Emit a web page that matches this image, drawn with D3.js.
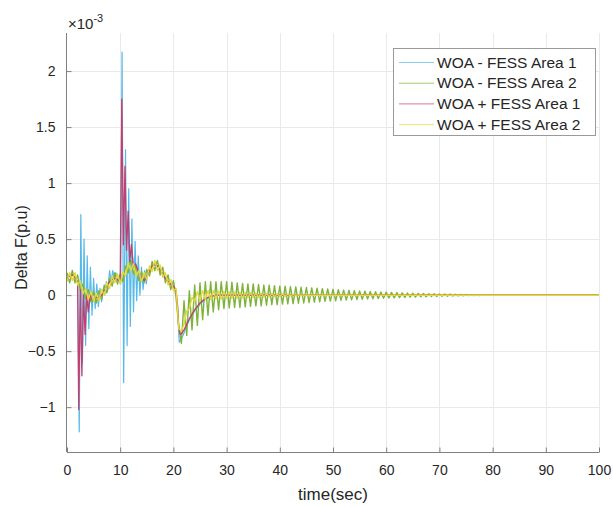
<!DOCTYPE html>
<html>
<head>
<meta charset="utf-8">
<script src="https://cdn.jsdelivr.net/npm/d3@7"></script>
<style>
  body { margin: 0; background: #fff; }
  svg { display: block; }
  text { font-family: "Liberation Sans", Arial, Helvetica, sans-serif; fill: #262626; }
</style>
</head>
<body>
<svg id="chart" width="613" height="507"></svg>
<script>
// Frequency deviation after load steps, all values in units of 1e-3 p.u.

const seriesNames = [
  "WOA - FESS Area 1",
  "WOA - FESS Area 2",
  "WOA + FESS Area 1",
  "WOA + FESS Area 2"
];
const seriesColors = ["#56b9e9", "#7db33a", "#c0406f", "#e2da3a"];

const xTicks = [0, 10, 20, 30, 40, 50, 60, 70, 80, 90, 100];
const yTicks = [-1, -0.5, 0, 0.5, 1, 1.5, 2];
const xDomain = [0, 100];
const yDomain = [-1.4, 2.34];

// WOA - FESS, Area 1: [time s, deviation]
const woaArea1 = [
  [0, 0.15], [0.5, 0.17], [1, 0.18], [1.5, 0.16], [2, 0.12], [2.3, -1.22], [2.6, 0.72],
  [2.9, -0.6], [3.2, 0.5], [3.5, -0.45], [3.8, 0.35], [4.1, -0.3], [4.4, 0.25], [4.7, -0.18],
  [5.0, 0.15], [5.3, -0.12], [5.6, 0.1], [5.9, -0.1], [6.2, 0.06], [6.5, -0.06], [6.8, 0.05],
  [7.1, 0.0], [7.4, 0.12], [7.7, 0.05], [8.0, 0.22], [8.3, 0.12], [8.6, 0.22], [8.9, 0.14],
  [9.2, 0.2], [9.5, 0.12], [9.8, 0.16], [10.1, 0.1], [10.35, 2.17], [10.65, -0.78], [11.0, 1.3],
  [11.3, -0.45], [11.6, 0.95], [11.9, -0.28], [12.2, 0.68], [12.5, -0.15], [12.8, 0.48],
  [13.1, -0.05], [13.4, 0.35], [13.7, 0.0], [14.0, 0.25], [14.3, 0.05], [14.6, 0.22], [14.9, 0.1],
  [15.2, 0.22], [15.6, 0.2], [16, 0.26], [16.5, 0.28], [17, 0.26], [17.5, 0.23], [18, 0.19],
  [18.5, 0.15], [19, 0.12], [19.5, 0.1], [20, 0.08], [20.5, 0.03], [20.8, -0.15], [21.1, -0.42],
  [21.4, -0.4], [21.8, -0.36], [22.3, -0.3], [23, -0.22], [24, -0.14], [25, -0.08], [26, -0.04],
  [27, -0.015], [28, 0], [100, 0]
];

// WOA + FESS, Area 1: [time s, deviation]
const fessArea1 = [
  [0, 0.15], [0.5, 0.17], [1.0, 0.18], [1.5, 0.16], [2.0, 0.12], [2.2, -1.02], [2.5, 0.05],
  [2.8, -0.72], [3.1, 0.02], [3.4, -0.35], [3.7, 0.0], [4.0, -0.15], [4.4, 0.02], [4.8, -0.05],
  [5.3, -0.02], [6, -0.02], [6.5, 0.0], [7, 0.04], [7.5, 0.08], [8, 0.12], [8.5, 0.14], [9, 0.15],
  [9.5, 0.14], [10.0, 0.12], [10.3, 1.75], [10.6, 0.45], [10.9, 1.15], [11.2, 0.4], [11.5, 0.75],
  [11.8, 0.3], [12.1, 0.45], [12.5, 0.25], [12.9, 0.28], [13.5, 0.2], [14, 0.15], [14.5, 0.13],
  [15, 0.17], [15.5, 0.22], [16, 0.26], [16.5, 0.27], [17, 0.26], [17.5, 0.23], [18, 0.19],
  [18.5, 0.15], [19, 0.12], [19.5, 0.1], [20, 0.08], [20.5, 0.04], [20.8, -0.1], [21.0, -0.28],
  [21.3, -0.35], [21.6, -0.34], [22, -0.31], [22.5, -0.26], [23, -0.21], [23.5, -0.17],
  [24, -0.13], [24.5, -0.1], [25, -0.07], [25.5, -0.05], [26, -0.03], [27, -0.01], [28, 0.0],
  [30, 0.0], [100, 0.0]
];

// Area 2 traces are sampled every 0.5 s
const area2Step = 0.5;

// WOA - FESS, Area 2: samples from t = 0 to t = 80 s, then settled
const woaArea2 = [
  0.20, 0.11, 0.22, 0.11, 0.18, 0.04, 0.10, -0.03, 0.05, -0.06,
  0.03, -0.07, 0.04, -0.04, 0.09, 0.02, 0.15, 0.08, 0.20, 0.10,
  0.19, 0.12, 0.26, 0.20, 0.31, 0.19, 0.26, 0.13, 0.21, 0.11,
  0.23, 0.17, 0.30, 0.22, 0.31, 0.18, 0.25, 0.11, 0.18, 0.05,
  0.13, -0.02, -0.28, -0.43, -0.05, -0.36, 0.04, -0.31, 0.09, -0.27,
  0.11, -0.22, 0.12, -0.18, 0.12, -0.15, 0.12, -0.13, 0.12, -0.12,
  0.12, -0.115, 0.115, -0.11, 0.11, -0.11, 0.105, -0.105, 0.10, -0.10,
  0.10, -0.095, 0.095, -0.095, 0.09, -0.09, 0.09, -0.085, 0.085, -0.085,
  0.08, -0.08, 0.08, -0.078, 0.076, -0.075, 0.074, -0.072, 0.07, -0.07,
  0.068, -0.066, 0.065, -0.063, 0.062, -0.06, 0.058, -0.056, 0.055, -0.053,
  0.052, -0.05, 0.048, -0.047, 0.045, -0.044, 0.043, -0.042, 0.04, -0.039,
  0.038, -0.036, 0.035, -0.034, 0.033, -0.032, 0.031, -0.03, 0.029, -0.028,
  0.027, -0.026, 0.025, -0.024, 0.023, -0.022, 0.021, -0.02, 0.019, -0.018,
  0.018, -0.017, 0.016, -0.015, 0.015, -0.014, 0.013, -0.012, 0.012, -0.011,
  0.011, -0.01, 0.01, -0.009, 0.009, -0.008, 0.008, -0.007, 0.007, -0.006,
  0.006, -0.005, 0.005, -0.004, 0.004, -0.003, 0.003, -0.002, 0.002, -0.001,
  0
];

// WOA + FESS, Area 2: samples from t = 0 to t = 45 s, then settled
const fessArea2 = [
  0.12, 0.20, 0.13, 0.20, 0.09, 0.13, 0.01, 0.06, -0.04, 0.03,
  -0.06, 0.02, -0.05, 0.05, 0.00, 0.11, 0.06, 0.17, 0.11, 0.19,
  0.10, 0.21, 0.17, 0.29, 0.22, 0.28, 0.17, 0.22, 0.12, 0.20,
  0.14, 0.26, 0.21, 0.31, 0.22, 0.27, 0.16, 0.20, 0.09, 0.14,
  0.04, 0.06, -0.30, -0.32, -0.26, -0.14, -0.12, -0.02, -0.06, 0.03,
  -0.04, 0.04, -0.04, 0.04, -0.04, 0.04, -0.035, 0.035, -0.035, 0.035,
  -0.03, 0.03, -0.03, 0.028, -0.027, 0.026, -0.025, 0.024, -0.023, 0.022,
  -0.021, 0.02, -0.019, 0.018, -0.017, 0.016, -0.015, 0.014, -0.013, 0.012,
  -0.011, 0.01, -0.009, 0.008, -0.007, 0.006, -0.005, 0.004, -0.003, 0.002,
  -0.001
];

// turn a sampled trace into [time, value] pairs, holding the last value to the end of the run
function sampled(values) {
  const pts = values.map((v, i) => [i * area2Step, v]);
  pts.push([xDomain[1], values[values.length - 1]]);
  return pts;
}

const traces = [woaArea1, sampled(woaArea2), fessArea1, sampled(fessArea2)];
const traceWidths = [1.2, 1.4, 1.3, 1.4];

const svg = d3.select("#chart");
const plot = { left: 67, right: 599, top: 33, bottom: 452 };

const x = d3.scaleLinear().domain(xDomain).range([plot.left, plot.right]);
const y = d3.scaleLinear().domain(yDomain).range([plot.bottom, plot.top]);

// grid
const grid = svg.append("g").attr("stroke", "#e9e9e9").attr("stroke-width", 1);
grid.selectAll("line.gx").data(xTicks.slice(1)).join("line")
  .attr("x1", d => Math.round(x(d)) + 0.5).attr("x2", d => Math.round(x(d)) + 0.5)
  .attr("y1", plot.top).attr("y2", plot.bottom);
grid.selectAll("line.gy").data(yTicks).join("line")
  .attr("x1", plot.left).attr("x2", plot.right)
  .attr("y1", d => Math.round(y(d)) + 0.5).attr("y2", d => Math.round(y(d)) + 0.5);

// traces
const line = d3.line().x(d => x(d[0])).y(d => y(d[1]));
svg.append("clipPath").attr("id", "plotClip").append("rect")
  .attr("x", plot.left).attr("y", plot.top)
  .attr("width", plot.right - plot.left).attr("height", plot.bottom - plot.top);
svg.append("g").attr("clip-path", "url(#plotClip)")
  .selectAll("path").data(traces).join("path")
  .attr("d", line)
  .attr("fill", "none")
  .attr("stroke", (d, i) => seriesColors[i])
  .attr("stroke-width", (d, i) => traceWidths[i])
  .attr("stroke-linejoin", "round");

// axes
const xAxis = d3.axisBottom(x).tickValues(xTicks).tickSizeInner(-5).tickSizeOuter(0).tickPadding(13);
const yAxis = d3.axisLeft(y).tickValues(yTicks).tickSizeInner(-5).tickSizeOuter(0).tickPadding(11)
  .tickFormat(d => d3.format("")(d));

const gx = svg.append("g").attr("transform", `translate(0,${plot.bottom + 0.5})`).call(xAxis);
const gy = svg.append("g").attr("transform", `translate(${plot.left - 0.5},0)`).call(yAxis);
[gx, gy].forEach(g => {
  g.select(".domain").attr("stroke", "#808080");
  g.selectAll(".tick line").attr("stroke", "#808080");
  g.selectAll(".tick text").attr("font-size", 14).attr("fill", "#262626")
    .style("font-family", '"Liberation Sans", Arial, sans-serif');
});
gx.select(".domain").attr("d", `M${plot.left},0H${plot.right}`);
gy.select(".domain").attr("d", `M0,${plot.bottom}V${plot.top}`);

// exponent label
const expo = svg.append("text").attr("x", 68).attr("y", 29).attr("font-size", 15);
expo.append("tspan").text("\u00d710");
expo.append("tspan").attr("dy", -7).attr("font-size", 11).text("-3");

// axis titles
svg.append("text")
  .attr("x", (plot.left + plot.right) / 2).attr("y", 500)
  .attr("text-anchor", "middle").attr("font-size", 17)
  .text("time(sec)");
svg.append("text")
  .attr("transform", `translate(27,${(plot.top + plot.bottom) / 2 + 5}) rotate(-90)`)
  .attr("text-anchor", "middle").attr("font-size", 16)
  .text("Delta F(p.u)");

// legend
const lg = svg.append("g").attr("transform", "translate(393,48)");
lg.append("rect").attr("x", 0.5).attr("y", 0.5).attr("width", 202).attr("height", 87)
  .attr("fill", "#fff").attr("stroke", "#9a9a9a").attr("stroke-width", 1);
const rows = lg.selectAll("g.row").data(seriesNames).join("g")
  .attr("transform", (d, i) => `translate(0,${14 + i * 20.7})`);
rows.append("line").attr("x1", 6).attr("x2", 41).attr("y1", 0.5).attr("y2", 0.5)
  .attr("stroke", (d, i) => seriesColors[i]).attr("stroke-width", 1).attr("opacity", 0.7);
rows.append("text").attr("x", 44).attr("y", 5.5).attr("font-size", 15.5).attr("fill", "#333")
  .text(d => d);
</script>
</body>
</html>
